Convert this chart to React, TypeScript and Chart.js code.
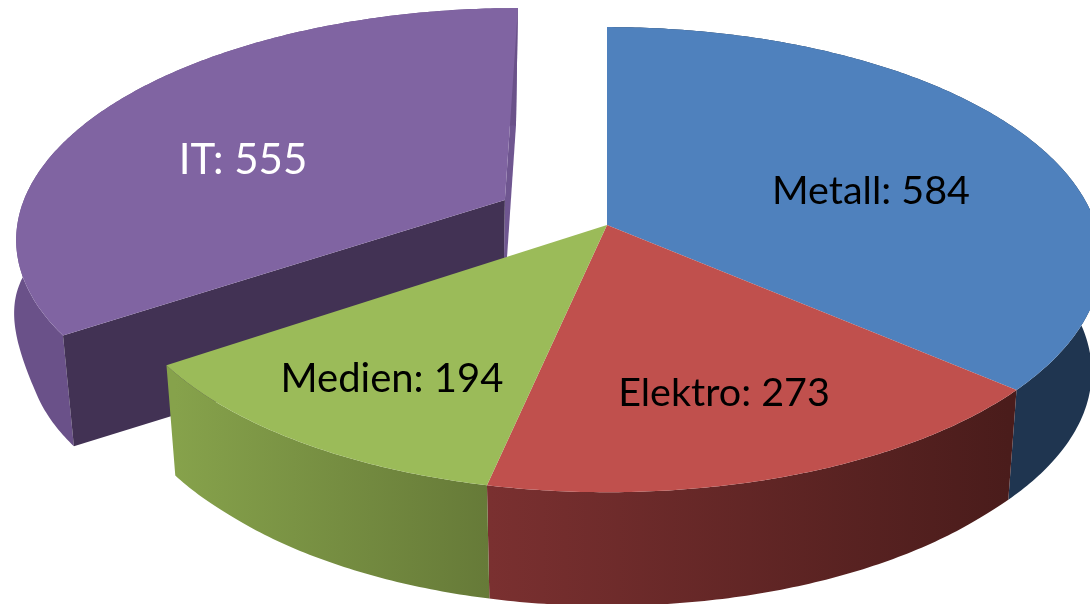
import React, { useEffect, useRef } from "react";
import { Chart, registerables } from "chart.js";

Chart.register(...registerables);

const categories = ["Metall", "Elektro", "Medien", "IT"];
const values = [584, 273, 194, 555];
const explode = [0, 0, 0, 0.24];
const topColors = ["#4F81BD", "#C0504D", "#9BBB59", "#8064A2"];
const wallLeftColors = ["#1F3550", "#7A3030", "#86A24B", "#6A5189"];
const wallRightColors = ["#1F3550", "#4A1C1B", "#667A38", "#6A5189"];
const labelColors = ["#000000", "#000000", "#000000", "#FFFFFF"];
const labelSizes = [39.5, 39.5, 40, 42];
const labelCenters = [
  [871, 191],
  [724, 393],
  [392, 379],
  [243, 160],
];
const drawOrder = [3, 0, 1, 2];

const CX = 607, CY = 225, A = 489, B = 227.4, P = 0.149;
const BASE_CY = 338, BASE_SCALE = 0.98;

const clamp01 = (v: number) => Math.min(1, Math.max(0, v));
const smooth = (v: number) => v * v * (3 - 2 * v);

function project(X: number, Y: number, base: boolean, exploded = false): [number, number] {
  const w = 1 + P * Y;
  const sx = (A * X) / w;
  const sy = (-B * Y) / w;
  if (!base) return [CX + sx, CY + sy];
  const spread = exploded
    ? 0.07 * smooth(clamp01((Y + 0.25) / 0.7)) * (1 - 0.4 * clamp01((Y - 0.5) / 0.6))
    : 0;
  const sag = 6 * clamp01((-Y - 0.7) / 0.3);
  return [CX + sx * (BASE_SCALE + spread), BASE_CY + sy * BASE_SCALE + sag];
}

const perspectivePie = {
  id: "perspectivePie",
  beforeDatasetsDraw(chart: any) {
    const ctx = chart.ctx as CanvasRenderingContext2D;
    const arcs = chart.getDatasetMeta(0).data;
    for (const i of drawOrder) {
      const arc = arcs[i];
      const t0 = arc.startAngle + Math.PI / 2;
      const t1 = arc.endAngle + Math.PI / 2;
      const tm = (t0 + t1) / 2;
      const exploded = explode[i] > 0;
      const ox = Math.sin(tm) * explode[i];
      const oy = Math.cos(tm) * explode[i];
      const rim = (t: number, base: boolean) =>
        project(ox + Math.sin(t), oy + Math.cos(t), base, exploded);
      const apex = (base: boolean) => project(ox, oy, base, exploded);
      const steps = Math.ceil((t1 - t0) * 90);
      const ts: number[] = [];
      for (let k = 0; k <= steps; k++) ts.push(t0 + ((t1 - t0) * k) / steps);

      const poly = (pts: [number, number][], fill: string | CanvasGradient) => {
        ctx.beginPath();
        pts.forEach((p, k) => (k ? ctx.lineTo(p[0], p[1]) : ctx.moveTo(p[0], p[1])));
        ctx.closePath();
        ctx.fillStyle = fill;
        ctx.fill();
      };

      if (exploded) {
        poly([rim(t1, false), apex(false), apex(true), rim(t1, true)], "#6F5690");
      }

      const topPts = ts.map((t) => rim(t, false));
      const basePts = ts.map((t) => rim(t, true));
      const xs = basePts.map((p) => p[0]);
      const grad = ctx.createLinearGradient(Math.min(...xs), 0, Math.max(...xs), 0);
      grad.addColorStop(0, wallLeftColors[i]);
      grad.addColorStop(1, wallRightColors[i]);
      poly([...topPts, ...basePts.slice().reverse()], grad);

      if (exploded) {
        poly([rim(t0, false), apex(false), apex(true), rim(t0, true)], "#423254");
      }

      poly([apex(false), ...topPts], arc.options.backgroundColor);
    }
    return false;
  },
  afterDraw(chart: any) {
    const ctx = chart.ctx as CanvasRenderingContext2D;
    ctx.save();
    ctx.textAlign = "center";
    ctx.textBaseline = "middle";
    categories.forEach((c, i) => {
      ctx.font = `${labelSizes[i]}px Lato, "Open Sans", sans-serif`;
      ctx.fillStyle = labelColors[i];
      ctx.fillText(`${c}: ${values[i]}`, labelCenters[i][0], labelCenters[i][1]);
    });
    ctx.restore();
  },
};

export default function App() {
  const ref = useRef<HTMLCanvasElement>(null);
  useEffect(() => {
    document.body.style.margin = "0";
    document.body.style.background = "#FFFFFF";
    const chart = new Chart(ref.current!, {
      type: "pie",
      data: {
        labels: categories,
        datasets: [{ data: values, backgroundColor: topColors, borderWidth: 0 }],
      },
      options: {
        responsive: false,
        animation: false,
        events: [],
        plugins: { legend: { display: false }, tooltip: { enabled: false } },
      },
      plugins: [perspectivePie],
    } as any);
    return () => chart.destroy();
  }, []);
  return <canvas ref={ref} width={1090} height={604} style={{ display: "block" }} />;
}
